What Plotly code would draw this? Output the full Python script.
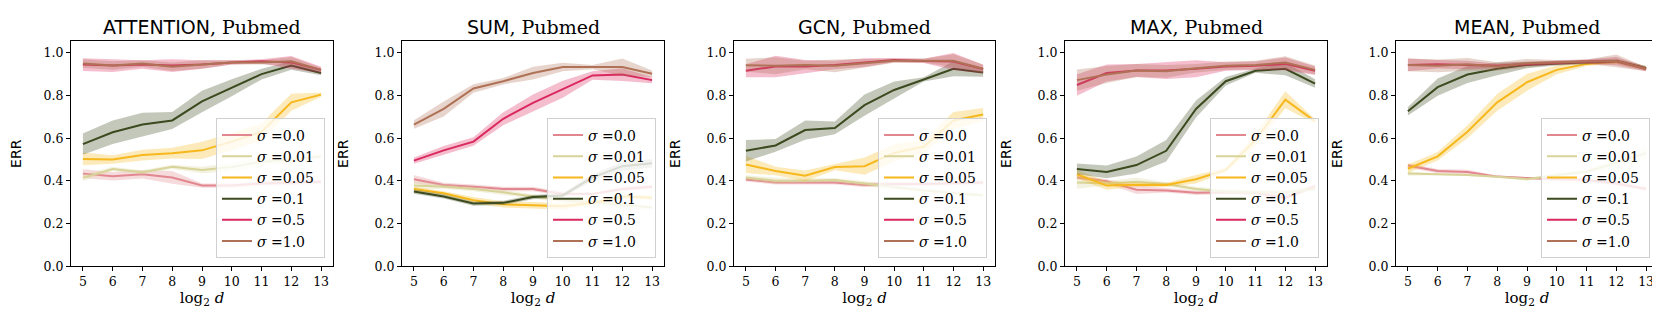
import plotly.graph_objects as go

# x values (log2 of hidden dim)
log_d = [5, 6, 7, 8, 9, 10, 11, 12, 13]

sigmas = ["0.0", "0.01", "0.05", "0.1", "0.5", "1.0"]
colors = ["#e2878f", "#d8d398", "#f6b81d", "#3c4a1f", "#d9295e", "#b07256"]
fill_colors = ["rgba(226,135,143,0.3)", "rgba(216,211,152,0.3)", "rgba(246,184,29,0.3)",
               "rgba(60,74,31,0.3)", "rgba(217,41,94,0.3)", "rgba(176,114,86,0.3)"]

titles = ["ATTENTION", "SUM", "GCN", "MAX", "MEAN"]

# mean ERR per sigma (rows follow `sigmas`)
attention_mean = [
    [0.434, 0.422, 0.431, 0.416, 0.378, 0.378, 0.388, 0.393, 0.396],
    [0.414, 0.456, 0.440, 0.466, 0.451, 0.465, 0.490, 0.500, 0.515],
    [0.503, 0.500, 0.521, 0.530, 0.543, 0.584, 0.630, 0.768, 0.804],
    [0.572, 0.628, 0.664, 0.683, 0.772, 0.836, 0.900, 0.940, 0.905],
    [0.945, 0.940, 0.945, 0.940, 0.945, 0.955, 0.960, 0.955, 0.920],
    [0.950, 0.940, 0.950, 0.935, 0.945, 0.955, 0.955, 0.960, 0.920],
]
attention_std = [
    [0.02, 0.02, 0.02, 0.03, 0.01, 0.01, 0.01, 0.015, 0.01],
    [0.015, 0.01, 0.01, 0.01, 0.015, 0.02, 0.02, 0.02, 0.01],
    [0.03, 0.02, 0.025, 0.025, 0.04, 0.04, 0.04, 0.04, 0.01],
    [0.05, 0.055, 0.055, 0.04, 0.05, 0.04, 0.025, 0.02, 0.01],
    [0.03, 0.03, 0.02, 0.03, 0.02, 0.01, 0.01, 0.03, 0.015],
    [0.02, 0.02, 0.015, 0.02, 0.02, 0.01, 0.01, 0.02, 0.01],
]

sum_mean = [
    [0.408, 0.381, 0.373, 0.362, 0.362, 0.339, 0.339, 0.362, 0.373],
    [0.378, 0.373, 0.362, 0.347, 0.327, 0.309, 0.300, 0.289, 0.275],
    [0.362, 0.342, 0.309, 0.290, 0.286, 0.281, 0.297, 0.327, 0.321],
    [0.350, 0.327, 0.294, 0.297, 0.324, 0.332, 0.416, 0.469, 0.483],
    [0.495, 0.543, 0.584, 0.691, 0.765, 0.829, 0.894, 0.898, 0.872],
    [0.664, 0.737, 0.833, 0.867, 0.905, 0.933, 0.933, 0.933, 0.902],
]
sum_std = [
    [0.02, 0.01, 0.01, 0.01, 0.01, 0.01, 0.005, 0.01, 0.01],
    [0.02, 0.01, 0.01, 0.01, 0.01, 0.01, 0.01, 0.01, 0.01],
    [0.01, 0.01, 0.015, 0.015, 0.015, 0.015, 0.01, 0.01, 0.01],
    [0.01, 0.01, 0.01, 0.01, 0.01, 0.01, 0.015, 0.02, 0.02],
    [0.015, 0.02, 0.02, 0.03, 0.04, 0.04, 0.02, 0.03, 0.015],
    [0.02, 0.035, 0.02, 0.015, 0.03, 0.02, 0.01, 0.04, 0.015],
]

gcn_mean = [
    [0.407, 0.393, 0.393, 0.393, 0.381, 0.385, 0.385, 0.390, 0.393],
    [0.416, 0.401, 0.401, 0.404, 0.388, 0.370, 0.355, 0.343, 0.333],
    [0.477, 0.446, 0.424, 0.465, 0.469, 0.531, 0.561, 0.683, 0.711],
    [0.541, 0.566, 0.638, 0.648, 0.755, 0.826, 0.875, 0.925, 0.908],
    [0.916, 0.936, 0.936, 0.943, 0.954, 0.966, 0.962, 0.959, 0.924],
    [0.942, 0.939, 0.943, 0.939, 0.951, 0.963, 0.963, 0.963, 0.925],
]
gcn_std = [
    [0.01, 0.01, 0.01, 0.01, 0.01, 0.01, 0.01, 0.01, 0.01],
    [0.01, 0.015, 0.01, 0.01, 0.01, 0.01, 0.01, 0.01, 0.01],
    [0.04, 0.02, 0.025, 0.015, 0.04, 0.04, 0.03, 0.04, 0.03],
    [0.05, 0.03, 0.045, 0.03, 0.05, 0.04, 0.01, 0.035, 0.02],
    [0.03, 0.05, 0.03, 0.02, 0.02, 0.01, 0.01, 0.04, 0.02],
    [0.03, 0.04, 0.02, 0.03, 0.02, 0.01, 0.01, 0.03, 0.02],
]

max_mean = [
    [0.416, 0.398, 0.359, 0.355, 0.344, 0.347, 0.343, 0.321, 0.375],
    [0.393, 0.388, 0.396, 0.385, 0.362, 0.350, 0.347, 0.347, 0.362],
    [0.431, 0.378, 0.382, 0.381, 0.408, 0.451, 0.592, 0.780, 0.679],
    [0.456, 0.442, 0.474, 0.541, 0.737, 0.867, 0.916, 0.925, 0.856],
    [0.849, 0.905, 0.917, 0.917, 0.925, 0.936, 0.939, 0.948, 0.916],
    [0.872, 0.898, 0.917, 0.913, 0.928, 0.939, 0.943, 0.954, 0.920],
]
max_std = [
    [0.01, 0.01, 0.02, 0.01, 0.01, 0.01, 0.01, 0.01, 0.01],
    [0.03, 0.01, 0.02, 0.01, 0.01, 0.01, 0.01, 0.01, 0.01],
    [0.02, 0.02, 0.01, 0.01, 0.02, 0.01, 0.03, 0.04, 0.01],
    [0.025, 0.03, 0.04, 0.05, 0.04, 0.02, 0.01, 0.03, 0.02],
    [0.05, 0.04, 0.03, 0.04, 0.04, 0.02, 0.02, 0.03, 0.02],
    [0.05, 0.04, 0.03, 0.03, 0.02, 0.02, 0.02, 0.03, 0.02],
]

mean_mean = [
    [0.472, 0.446, 0.442, 0.420, 0.413, 0.408, 0.404, 0.388, 0.362],
    [0.434, 0.431, 0.428, 0.419, 0.408, 0.428, 0.443, 0.485, 0.530],
    [0.457, 0.515, 0.630, 0.768, 0.862, 0.920, 0.948, 0.959, 0.928],
    [0.726, 0.839, 0.898, 0.925, 0.943, 0.951, 0.956, 0.962, 0.928],
    [0.943, 0.946, 0.943, 0.939, 0.948, 0.954, 0.959, 0.962, 0.924],
    [0.943, 0.939, 0.946, 0.936, 0.951, 0.956, 0.959, 0.962, 0.924],
]
mean_std = [
    [0.01, 0.01, 0.01, 0.005, 0.005, 0.01, 0.01, 0.01, 0.01],
    [0.01, 0.005, 0.005, 0.005, 0.005, 0.01, 0.01, 0.02, 0.02],
    [0.02, 0.02, 0.03, 0.04, 0.04, 0.02, 0.01, 0.01, 0.01],
    [0.02, 0.04, 0.04, 0.03, 0.015, 0.01, 0.01, 0.01, 0.01],
    [0.03, 0.02, 0.02, 0.01, 0.01, 0.01, 0.01, 0.02, 0.01],
    [0.03, 0.03, 0.03, 0.02, 0.02, 0.01, 0.01, 0.03, 0.01],
]

panels = [
    (attention_mean, attention_std),
    (sum_mean, sum_std),
    (gcn_mean, gcn_std),
    (max_mean, max_std),
    (mean_mean, mean_std),
]

W, H = 1660, 323
SERIF = "DejaVu Serif"
SANS = "DejaVu Sans"

# pixel extents of the five plot areas
x_px = [(63, 325), (394, 656), (726, 987), (1057, 1319), (1388, 1650)]
y_dom = [59 / H, 289 / H]

fig = go.Figure()
layout = dict(
    width=W, height=H,
    margin=dict(l=0, r=0, t=0, b=0),
    plot_bgcolor="white", paper_bgcolor="white",
    font=dict(family=SERIF, size=12.5, color="black"),
    annotations=[],
)

for p, (means, stds) in enumerate(panels):
    suffix = "" if p == 0 else str(p + 1)
    xa, ya = "x" + suffix, "y" + suffix
    leg = "legend" + suffix

    for i, s in enumerate(sigmas):
        m = means[i]
        sd = stds[i]
        upper = [a + b for a, b in zip(m, sd)]
        lower = [a - b for a, b in zip(m, sd)]
        fig.add_trace(go.Scatter(
            x=log_d + log_d[::-1], y=upper + lower[::-1],
            fill="toself", fillcolor=fill_colors[i], line=dict(width=0),
            mode="lines", hoverinfo="skip", showlegend=False,
            xaxis=xa, yaxis=ya, legend=leg, legendgroup=f"g{p}_{i}",
        ))
        fig.add_trace(go.Scatter(
            x=log_d, y=m, mode="lines",
            line=dict(color=colors[i], width=2),
            name=f"<i>σ</i> =" + s + "\u00a0",
            xaxis=xa, yaxis=ya, legend=leg, legendgroup=f"g{p}_{i}",
        ))

    x0, x1 = x_px[p]
    layout["xaxis" + suffix] = dict(
        domain=[x0 / W, x1 / W], anchor=ya, range=[4.6, 13.4],
        tickvals=log_d, ticks="outside", ticklen=4, tickcolor="black",
        showline=True, linecolor="black", linewidth=1, mirror=True,
        showgrid=False, zeroline=False,
        tickfont=dict(family=SERIF, size=12.5),
        title=dict(text="log<sub>2</sub> <i>d</i>", font=dict(family=SERIF, size=15), standoff=3),
    )
    layout["yaxis" + suffix] = dict(
        domain=y_dom, anchor=xa, range=[0, 1.054],
        tickvals=[0, 0.2, 0.4, 0.6, 0.8, 1.0], tickformat=".1f",
        ticks="outside", ticklen=4, tickcolor="black",
        showline=True, linecolor="black", linewidth=1, mirror=True,
        showgrid=False, zeroline=False,
        tickfont=dict(family=SERIF, size=12.5),
        title=dict(text="ERR", font=dict(family=SANS, size=14), standoff=22),
    )
    layout[leg] = dict(
        x=(x1 - 8) / W, y=(H - 256) / H, xanchor="right", yanchor="bottom",
        xref="paper", yref="paper",
        bgcolor="rgba(255,255,255,0.8)", bordercolor="#d0d0d0", borderwidth=1,
        font=dict(family=SERIF, size=14), tracegroupgap=0,
    )
    layout["annotations"].append(dict(
        text=f'<span style="font-family:DejaVu Sans">{titles[p]}</span>, Pubmed',
        x=(x0 + x1) / 2 / W, y=(H - 19) / H, xref="paper", yref="paper",
        xanchor="center", yanchor="middle", showarrow=False,
        font=dict(family=SERIF, size=19),
    ))

fig.update_layout(**layout)
fig.write_html("out.html")
